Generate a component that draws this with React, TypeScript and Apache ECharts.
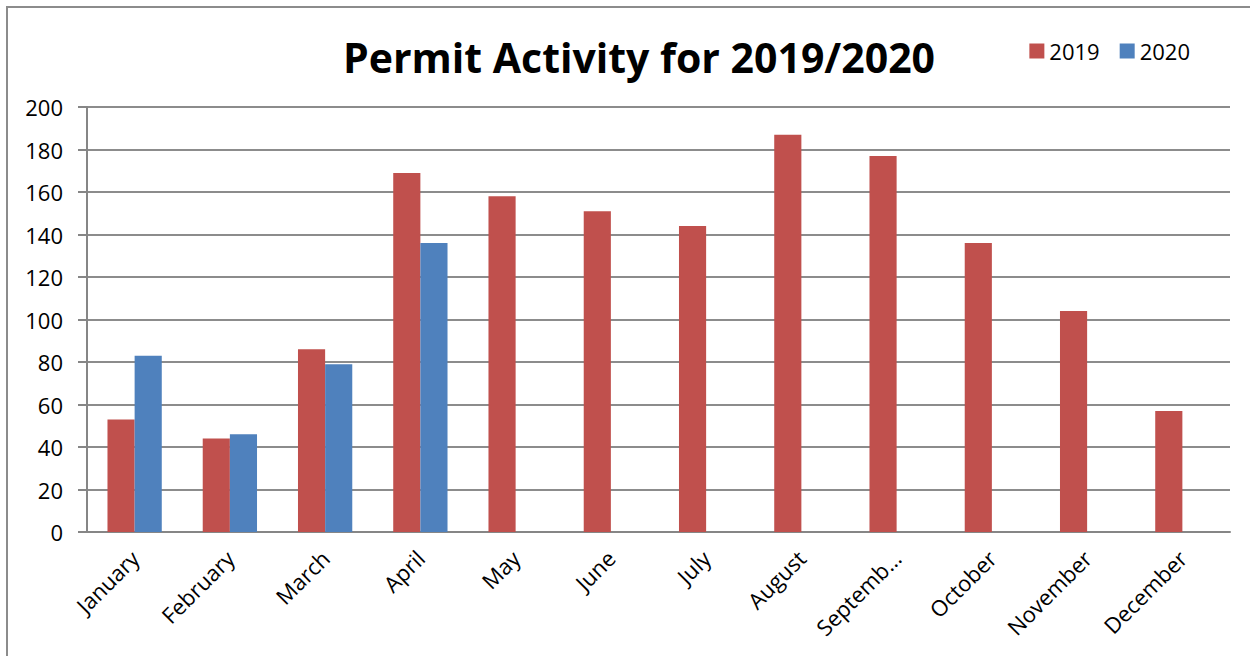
import React, { useEffect, useRef } from "react";
import * as echarts from "echarts";

const months = ["January", "February", "March", "April", "May", "June", "July", "August", "Septemb…", "October", "November", "December"];
const values2019 = [53, 44, 86, 169, 158, 151, 144, 187, 177, 136, 104, 57];
const values2020: (number | null)[] = [83, 46, 79, 136, null, null, null, null, null, null, null, null];
const yTicks = [0, 20, 40, 60, 80, 100, 120, 140, 160, 180, 200];

const FONT = "Open Sans";

export default function App() {
  const ref = useRef<HTMLDivElement>(null);
  useEffect(() => {
    const chart = echarts.init(ref.current!, null, { renderer: "svg" });
    chart.setOption({
      animation: false,
      backgroundColor: "#ffffff",
      textStyle: { fontFamily: FONT },
      title: {
        text: "Permit Activity for 2019/2020",
        left: 634,
        top: 31,
        textAlign: "center",
        textStyle: { fontSize: 41, fontWeight: "bold", color: "#000", fontFamily: FONT },
      },
      legend: {
        right: 55,
        top: 35,
        itemWidth: 15,
        itemHeight: 15,
        itemGap: 20,
        icon: "rect",
        textStyle: { fontSize: 22, color: "#000", fontFamily: FONT },
        data: ["2019", "2020"],
      },
      grid: { left: 87, right: 20, top: 107, bottom: 124, containLabel: false },
      xAxis: {
        type: "category",
        data: months,
        axisLine: { lineStyle: { color: "#868686", width: 2 } },
        axisTick: { length: 8, lineStyle: { color: "#868686", width: 2 } },
        axisLabel: { rotate: 45, fontSize: 22, color: "#000", margin: 22, interval: 0, fontFamily: FONT },
      },
      yAxis: {
        type: "value",
        min: yTicks[0],
        max: yTicks[yTicks.length - 1],
        interval: 20,
        axisLine: { show: true, lineStyle: { color: "#868686", width: 2 } },
        axisTick: { show: true, length: 9, lineStyle: { color: "#868686", width: 2 } },
        axisLabel: { fontSize: 22, color: "#000", margin: 24, fontFamily: FONT },
        splitLine: { lineStyle: { color: "#8c8c8c", width: 2 } },
      },
      series: [
        { name: "2019", type: "bar", data: values2019, itemStyle: { color: "#C0504D" }, barGap: "0%", barCategoryGap: "43%" },
        { name: "2020", type: "bar", data: values2020, itemStyle: { color: "#4F81BD" }, barGap: "0%", barCategoryGap: "43%" },
      ],
      graphic: [
        {
          type: "rect",
          shape: { x: 7, y: 7, width: 1260, height: 670 },
          style: { fill: "none", stroke: "#8c8c8c", lineWidth: 2 },
          silent: true,
        },
      ],
    });
    return () => chart.dispose();
  }, []);
  return <div ref={ref} style={{ position: "absolute", left: 0, top: 0, width: 1250, height: 656 }} />;
}
